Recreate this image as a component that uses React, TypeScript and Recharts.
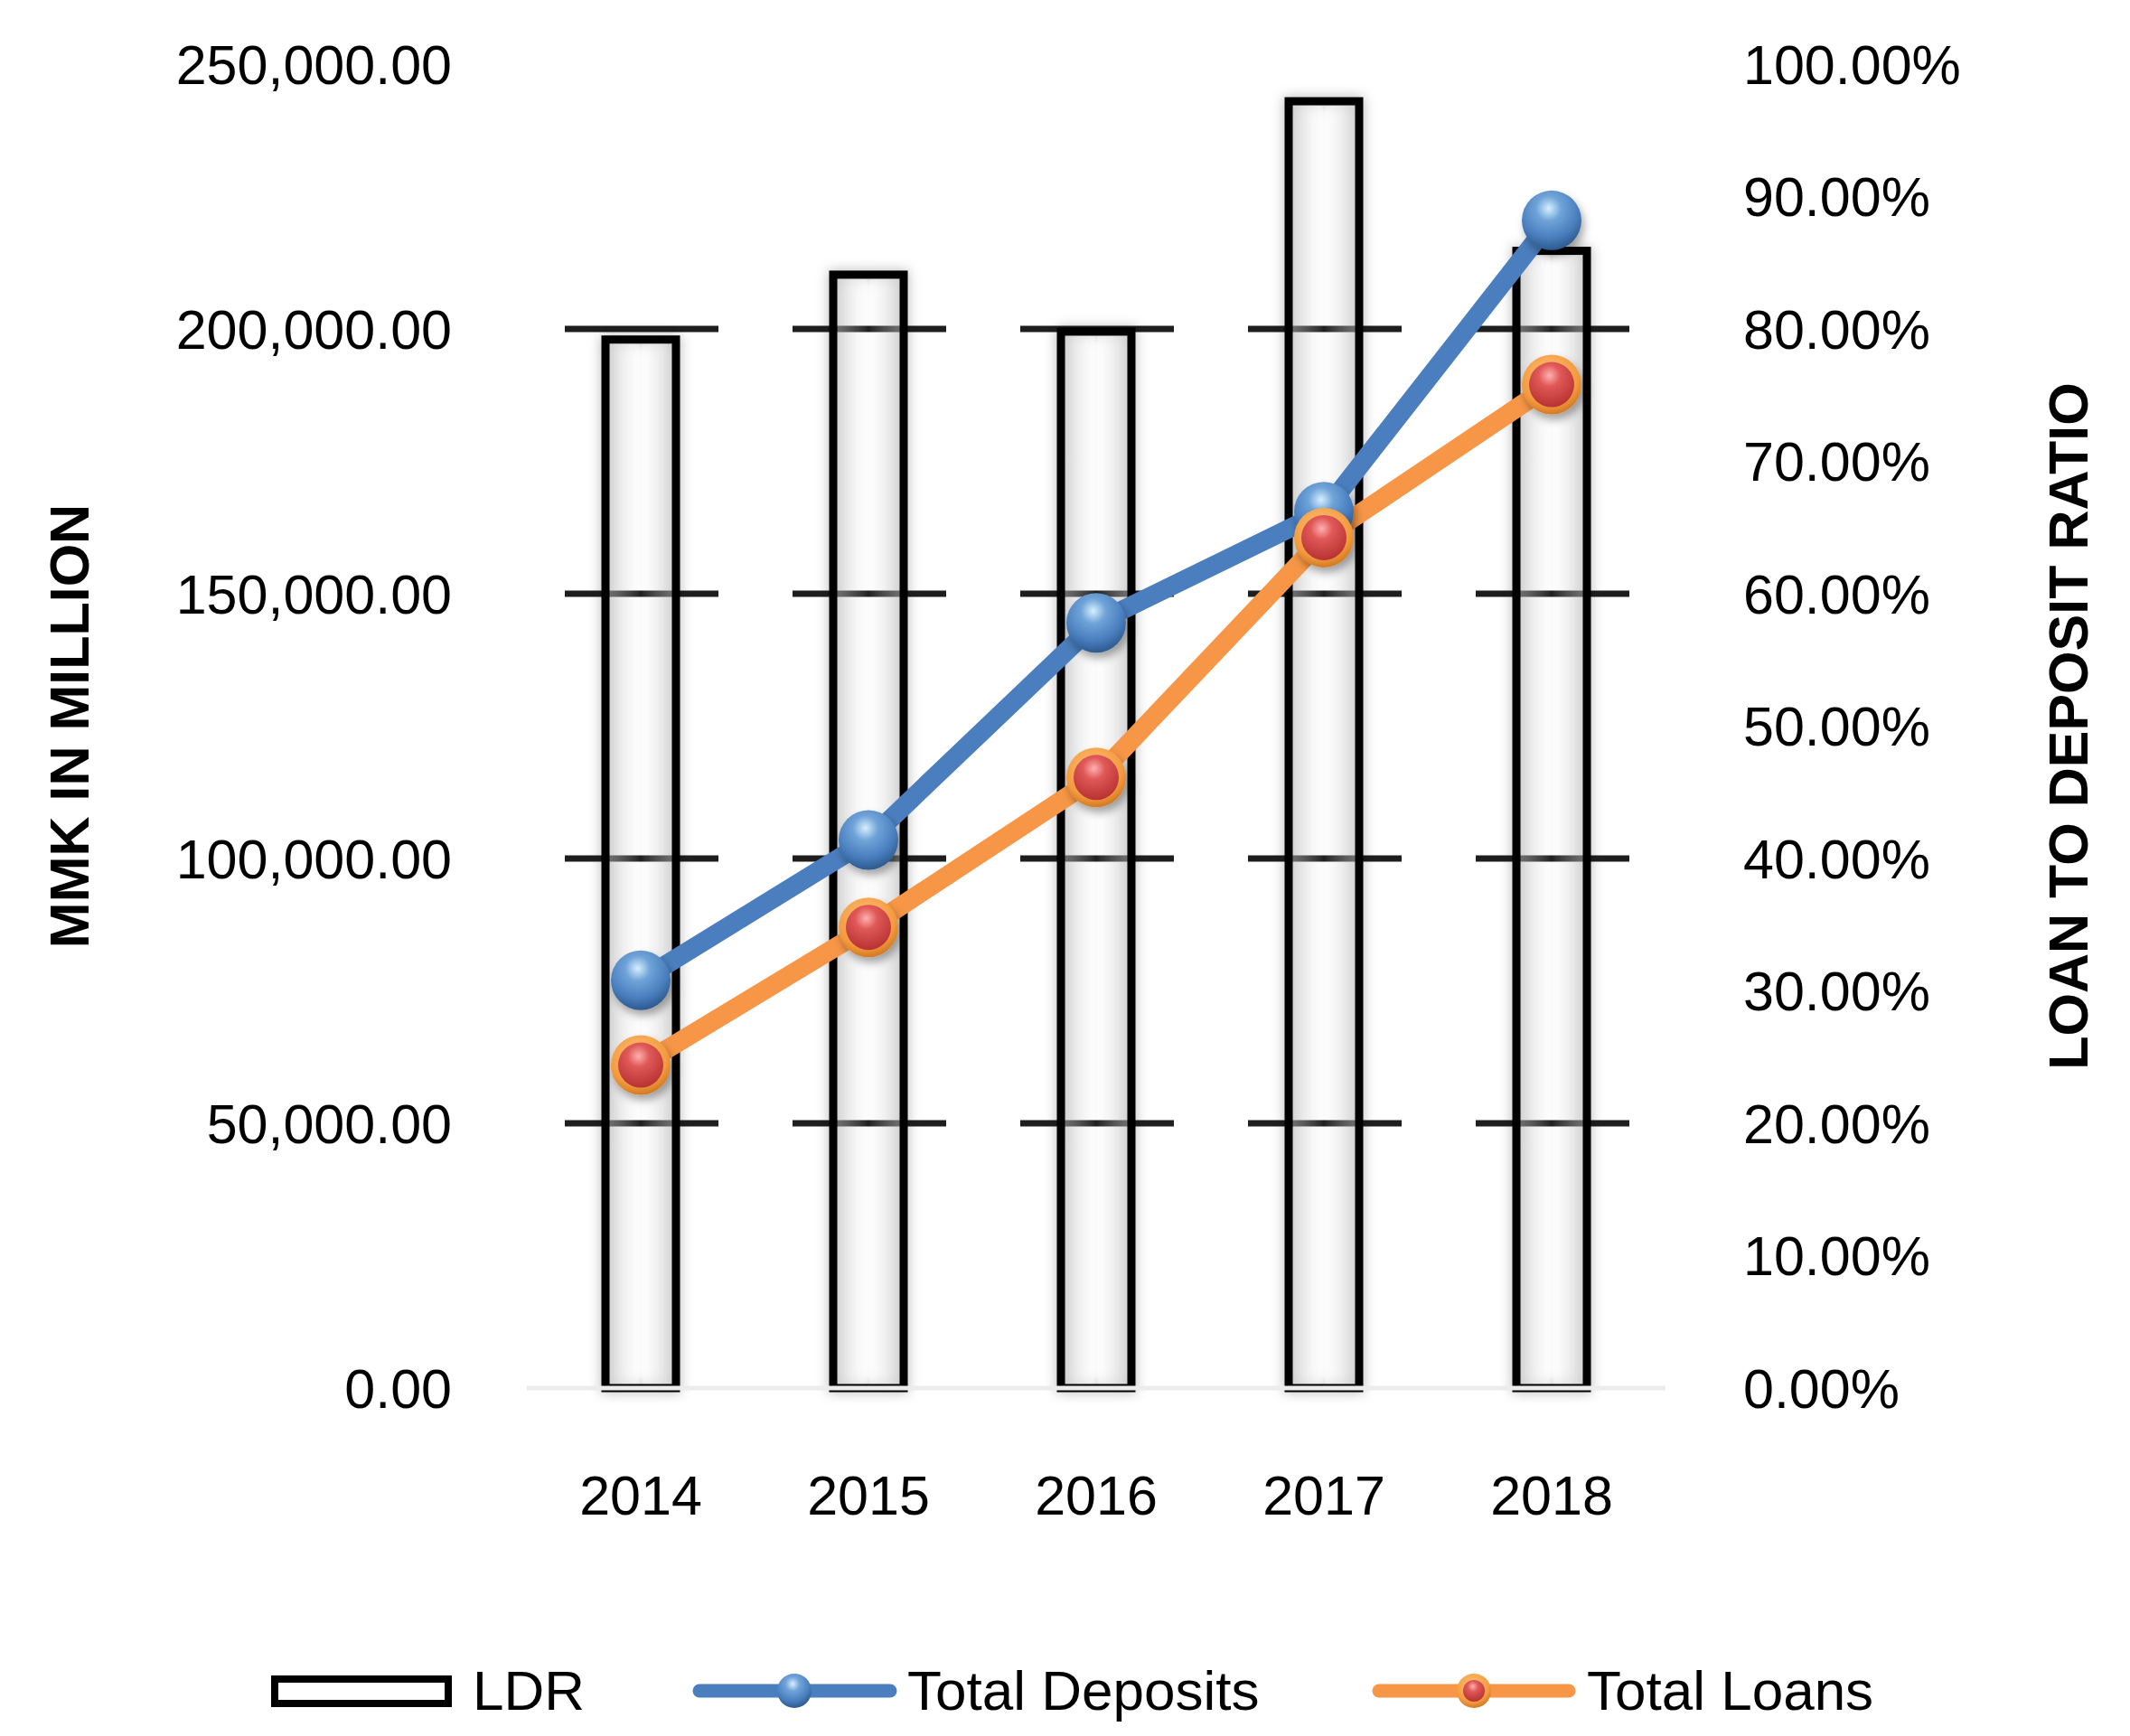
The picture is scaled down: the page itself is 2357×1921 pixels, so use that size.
import React from 'react';
import { ComposedChart, Bar, Line, XAxis, YAxis, CartesianGrid, Legend } from 'recharts';

const years = ['2014', '2015', '2016', '2017', '2018'];
const totalDeposits = [77000, 103500, 144500, 165500, 220500];
const totalLoans = [61000, 87000, 115300, 160600, 189500];
const ldrValues = [0.792, 0.841, 0.798, 0.972, 0.859];
const leftTicks = [0, 50000, 100000, 150000, 200000, 250000];
const rightTicks = [0, 0.1, 0.2, 0.3, 0.4, 0.5, 0.6, 0.7, 0.8, 0.9, 1.0];
const gridValues = [50000, 100000, 150000, 200000];
const seriesNames = ['LDR', 'Total Deposits', 'Total Loans'];

const data = years.map((y, i) => ({
  year: y,
  ldr: ldrValues[i],
  deposits: totalDeposits[i],
  loans: totalLoans[i],
}));

const FONT = '"Liberation Sans", Arial, Helvetica, sans-serif';
const W = 2340;
const H = 1905;
const BLUE = '#4A7EBE';
const ORANGE = '#F79646';

const fmtLeft = (v: number) =>
  v.toLocaleString('en-US', { minimumFractionDigits: 2, maximumFractionDigits: 2 });
const fmtRight = (v: number) => (v * 100).toFixed(2) + '%';

const Defs = () => (
  <svg width={0} height={0} style={{ position: 'absolute', left: 0, top: 0 }}>
    <defs>
      <radialGradient id="blueSphere" cx="45%" cy="30%" r="70%">
        <stop offset="0%" stopColor="#d6efff" />
        <stop offset="30%" stopColor="#6fa3d8" />
        <stop offset="70%" stopColor="#4a7fbf" />
        <stop offset="100%" stopColor="#2d5a8e" />
      </radialGradient>
      <radialGradient id="redSphere" cx="45%" cy="30%" r="70%">
        <stop offset="0%" stopColor="#ffb0b0" />
        <stop offset="35%" stopColor="#e05858" />
        <stop offset="100%" stopColor="#b83232" />
      </radialGradient>
      <radialGradient id="orangeRing" cx="45%" cy="35%" r="70%">
        <stop offset="0%" stopColor="#ffc27a" />
        <stop offset="70%" stopColor="#f39a3e" />
        <stop offset="100%" stopColor="#c8701c" />
      </radialGradient>
      <linearGradient id="barFill" x1="0" y1="0" x2="1" y2="0">
        <stop offset="0%" stopColor="#b8b8b8" stopOpacity={0.5} />
        <stop offset="50%" stopColor="#ffffff" stopOpacity={0} />
        <stop offset="100%" stopColor="#b8b8b8" stopOpacity={0.5} />
      </linearGradient>
      <filter id="softShadow" x="-50%" y="-50%" width="200%" height="200%">
        <feDropShadow dx="3" dy="6" stdDeviation="5" floodColor="#000" floodOpacity="0.35" />
      </filter>
      <filter id="barGlow" x="-50%" y="-10%" width="200%" height="120%">
        <feDropShadow dx="0" dy="0" stdDeviation="7" floodColor="#000" floodOpacity="0.3" />
      </filter>
    </defs>
  </svg>
);

const BarShape = (props: any) => {
  const { x, y, width, height } = props;
  if (x == null || height == null) return null;
  return (
    <rect
      x={x}
      y={y}
      width={width}
      height={height}
      fill="url(#barFill)"
      stroke="#000"
      strokeWidth={9}
      filter="url(#barGlow)"
    />
  );
};

const BlueDot = (props: any) => {
  const { cx, cy, index } = props;
  if (cx == null || cy == null) return null;
  return (
    <circle key={`bd-${index}`} cx={cx} cy={cy} r={33} fill="url(#blueSphere)" filter="url(#softShadow)" />
  );
};

const RedDot = (props: any) => {
  const { cx, cy, index } = props;
  if (cx == null || cy == null) return null;
  return (
    <g key={`rd-${index}`} filter="url(#softShadow)">
      <circle cx={cx} cy={cy} r={33} fill="url(#orangeRing)" />
      <circle cx={cx} cy={cy} r={25} fill="url(#redSphere)" />
    </g>
  );
};

const GridLine = (props: any) => {
  const { x1, x2, y1, y2, index } = props;
  return (
    <line
      key={`g-${index}`}
      x1={x1}
      x2={x2}
      y1={y1}
      y2={y2}
      stroke="#1e1e1e"
      strokeWidth={7}
      strokeDasharray="170 82"
      strokeDashoffset={210}
    />
  );
};

const LeftTitle = (props: any) => {
  const vb = props.viewBox || {};
  const cx = 69;
  const cy = (vb.y ?? 63) + (vb.height ?? 1465) / 2;
  return (
    <text
      x={cx}
      y={cy}
      transform={`rotate(-90 ${cx} ${cy})`}
      textAnchor="middle"
      dominantBaseline="central"
      fontFamily={FONT}
      fontWeight="bold"
      fontSize={61}
      fill="#000"
    >
      MMK IN MILLION
    </text>
  );
};

const RightTitle = (props: any) => {
  const vb = props.viewBox || {};
  const cx = 2281;
  const cy = (vb.y ?? 63) + (vb.height ?? 1465) / 2;
  return (
    <text
      x={cx}
      y={cy}
      transform={`rotate(-90 ${cx} ${cy})`}
      textAnchor="middle"
      dominantBaseline="central"
      fontFamily={FONT}
      fontWeight="bold"
      fontSize={61}
      fill="#000"
    >
      LOAN TO DEPOSIT RATIO
    </text>
  );
};

const renderLegend = () => {
  const textStyle: React.CSSProperties = {
    position: 'absolute',
    top: 0,
    lineHeight: '70px',
    whiteSpace: 'nowrap',
  };
  return (
    <div style={{ position: 'relative', width: W, height: 70, fontFamily: FONT, fontSize: 62, color: '#000' }}>
      <svg width={W} height={70} style={{ position: 'absolute', left: 0, top: 0 }}>
        <rect x={296} y={22} width={192} height={27} fill="#fff" stroke="#000" strokeWidth={8} />
        <line x1={766} x2={977} y1={35} y2={35} stroke={BLUE} strokeWidth={15} strokeLinecap="round" />
        <circle cx={871} cy={35} r={19} fill="url(#blueSphere)" />
        <line x1={1518} x2={1728} y1={35} y2={35} stroke={ORANGE} strokeWidth={15} strokeLinecap="round" />
        <circle cx={1623} cy={35} r={19} fill="url(#orangeRing)" />
        <circle cx={1623} cy={35} r={12} fill="url(#redSphere)" />
      </svg>
      <span style={{ ...textStyle, left: 515 }}>{seriesNames[0]}</span>
      <span style={{ ...textStyle, left: 996 }}>{seriesNames[1]}</span>
      <span style={{ ...textStyle, left: 1748 }}>{seriesNames[2]}</span>
    </div>
  );
};

export default function App() {
  const tickStyle = { fontFamily: FONT, fontSize: 61, fill: '#000' };
  return (
    <div style={{ position: 'relative', width: W, height: H }}>
      <Defs />
      <ComposedChart
        width={W}
        height={H}
        data={data}
        margin={{ top: 63, right: 0, bottom: 7, left: 0 }}
        style={{ fontFamily: FONT }}
      >
        <CartesianGrid
          yAxisId="left"
          vertical={false}
          horizontal={GridLine as any}
          horizontalValues={gridValues}
          stroke="#1e1e1e"
        />
        <XAxis
          dataKey="year"
          type="category"
          height={300}
          tickLine={false}
          tickSize={0}
          tickMargin={97}
          axisLine={{ stroke: '#ececec', strokeWidth: 5 }}
          tick={tickStyle}
          interval={0}
        />
        <YAxis
          yAxisId="left"
          orientation="left"
          width={575}
          domain={[0, 250000]}
          ticks={leftTicks}
          tickFormatter={fmtLeft}
          axisLine={false}
          tickLine={false}
          tickSize={0}
          tickMargin={83}
          tick={tickStyle}
          interval={0}
          label={<LeftTitle />}
        />
        <YAxis
          yAxisId="right"
          orientation="right"
          width={505}
          domain={[0, 1]}
          ticks={rightTicks}
          tickFormatter={fmtRight}
          axisLine={false}
          tickLine={false}
          tickSize={0}
          tickMargin={86}
          tick={{ ...tickStyle, textAnchor: 'start' }}
          interval={0}
          label={<RightTitle />}
        />
        <Bar
          yAxisId="right"
          dataKey="ldr"
          name={seriesNames[0]}
          barSize={78}
          shape={BarShape}
          isAnimationActive={false}
        />
        <Line
          yAxisId="left"
          type="linear"
          dataKey="deposits"
          name={seriesNames[1]}
          stroke={BLUE}
          strokeWidth={21}
          dot={BlueDot}
          activeDot={false}
          isAnimationActive={false}
        />
        <Line
          yAxisId="left"
          type="linear"
          dataKey="loans"
          name={seriesNames[2]}
          stroke={ORANGE}
          strokeWidth={21}
          dot={RedDot}
          activeDot={false}
          isAnimationActive={false}
        />
        <Legend verticalAlign="bottom" align="left" content={renderLegend} wrapperStyle={{ left: 0, width: W, height: 70 }} />
      </ComposedChart>
    </div>
  );
}
